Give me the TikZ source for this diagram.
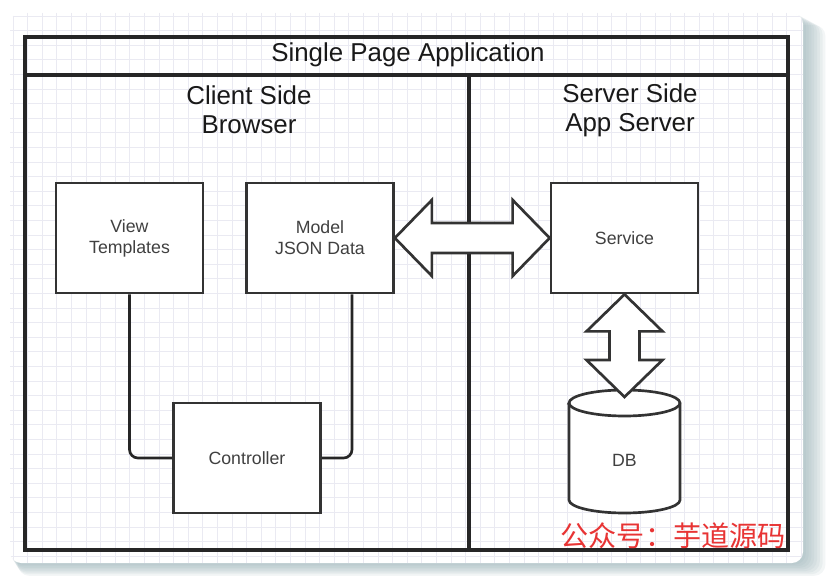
\documentclass[tikz,border=0pt]{standalone}
\usepackage{fontspec}
\setmainfont{Liberation Sans}
\newfontfamily\cjkfont{Noto Sans CJK SC}
\usepackage{xcolor}
\usetikzlibrary{calc}

\definecolor{shadowc}{RGB}{140,168,175}
\definecolor{gridc}{RGB}{234,234,242}
\definecolor{markred}{RGB}{232,52,52}

\begin{document}
\begin{tikzpicture}[
  x=0.025cm, y=-0.025cm,
  box/.style={draw=black!80,line width=1.9pt,fill=white,minimum width=3.675cm,
    minimum height=2.75cm,align=center,text=black!75,
    font=\fontsize{12.6}{14.9}\selectfont},
  side/.style={align=center,text=black!90,font=\fontsize{18.4}{20.6}\selectfont},
  wire/.style={draw=black!85,line width=1.9pt,rounded corners=6pt},
  fatarrow/.style={draw=black!80,line width=1.9pt,fill=white,line join=miter},
  frame/.style={draw=black!85,line width=2.2pt},
]
  \useasboundingbox (0,0) rectangle (826,576);
  \fill[white] (0,0) rectangle (826,576);

  % card with shadow and grid
  \foreach \k in {1,...,8}
    \fill[shadowc,opacity=0.1,rounded corners=8pt]
      (10+\k,13+1.5*\k) rectangle (803+2.8*\k,563+1.6*\k);
  \fill[white,rounded corners=8pt] (10,13) rectangle (803,563);
  \begin{scope}
    \clip[rounded corners=8pt] (10,13) rectangle (803,563);
    \foreach \gx in {13,27.6,...,803}
      \draw[gridc,line width=0.5pt] (\gx,13) -- (\gx,563);
    \foreach \gy in {16,30.6,...,563}
      \draw[gridc,line width=0.5pt] (10,\gy) -- (803,\gy);
  \end{scope}

  % frame
  \draw[frame] (25,37) rectangle (788,550);
  \draw[frame] (25,75) -- (788,75);
  \draw[frame] (469,75) -- (469,550);

  \node[side] (title) at (408,55) {Single Page Application};
  \node[side] (client) at (249,110) {Client Side\\Browser};
  \node[side] (server) at (630,110) {Server Side\\App Server};

  % boxes
  \node[box] (view) at (129.5,238) {View\\Templates};
  \node[box] (model) at (320,238) {Model\\JSON Data};
  \node[box] (service) at (624.5,238) {Service};
  \node[box] (ctrl) at (247,458) {Controller};

  \draw[wire] (view.south) |- (ctrl.west);
  \draw[wire] ($(model.south)+(32,0)$) |- (ctrl.east);

  % database
  \draw[fatarrow] (569,403) -- (569,500)
    arc[start angle=180,end angle=360,x radius=1.3875cm,y radius=0.325cm]
    -- (680,403)
    arc[start angle=0,end angle=180,x radius=1.3875cm,y radius=0.325cm] -- cycle;
  \draw[draw=black!80,line width=1.9pt] (569,403)
    arc[start angle=180,end angle=360,x radius=1.3875cm,y radius=0.325cm];
  \node[text=black!75,font=\fontsize{12.6}{14.9}\selectfont] (db) at (624.5,460) {DB};
  \coordinate (dbtip) at (624.5,397);

  % double arrows
  \draw[fatarrow] (model.east) -- ++(37,38) -- ++(0,-23)
    -- ($(service.west)+(-37,15)$) -- ++(0,23) -- (service.west)
    -- ++(-37,-38) -- ++(0,23) -- ($(model.east)+(37,-15)$) -- ++(0,-23) -- cycle;
  \draw[fatarrow] (service.south) -- ++(38,37) -- ++(-23,0)
    -- ($(dbtip)+(15,-37)$) -- ++(23,0) -- (dbtip)
    -- ++(-38,-37) -- ++(23,0) -- ($(service.south)+(-15,37)$) -- ++(-23,0) -- cycle;

  \node[anchor=east,text=markred,font=\cjkfont\fontsize{20}{22}\selectfont,inner sep=0pt]
    (mark) at (786,536) {公众号：芋道源码};
\end{tikzpicture}
\end{document}
